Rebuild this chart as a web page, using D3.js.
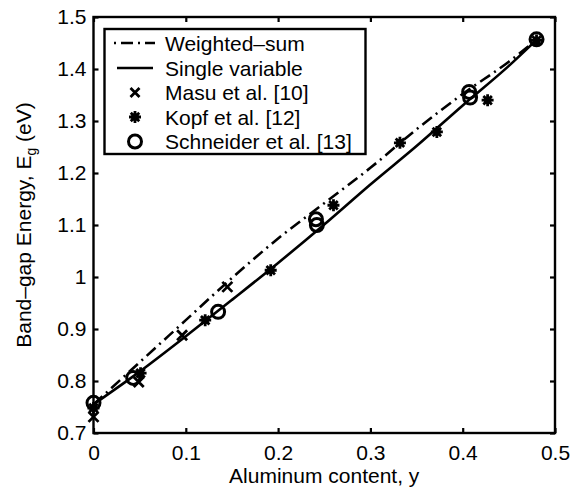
<!DOCTYPE html>
<html><head><meta charset="utf-8">
<script src="https://cdn.jsdelivr.net/npm/d3@7"></script>
<style>
body{margin:0;background:#fff;}
text{font-family:"Liberation Sans",Arial,Helvetica,sans-serif;fill:#000;}
</style></head>
<body>
<svg id="chart" width="578" height="490"></svg>
<script>
// ---- data ----
const xTicks = [0, 0.1, 0.2, 0.3, 0.4, 0.5];
const xTickLabels = ["0", "0.1", "0.2", "0.3", "0.4", "0.5"];
const yTicks = [0.7, 0.8, 0.9, 1.0, 1.1, 1.2, 1.3, 1.4, 1.5];
const yTickLabels = ["0.7", "0.8", "0.9", "1", "1.1", "1.2", "1.3", "1.4", "1.5"];

const curveX = [0, 0.05, 0.1, 0.15, 0.2, 0.25, 0.3, 0.35, 0.4, 0.45, 0.48];
const weightedSum = [0.755, 0.836, 0.917, 0.998, 1.074, 1.142, 1.210, 1.284, 1.352, 1.414, 1.456];
const singleVariable = [0.755, 0.818, 0.886, 0.956, 1.027, 1.101, 1.178, 1.252, 1.330, 1.406, 1.456];

const masuX = [0, 0.049, 0.096, 0.145];
const masuY = [0.731, 0.798, 0.888, 0.981];
const kopfX = [0, 0.051, 0.121, 0.192, 0.26, 0.332, 0.372, 0.427, 0.48];
const kopfY = [0.748, 0.815, 0.917, 1.013, 1.138, 1.258, 1.279, 1.340, 1.455];
const schneiderX = [0, 0.043, 0.135, 0.241, 0.242, 0.407, 0.408, 0.48];
const schneiderY = [0.758, 0.806, 0.933, 1.111, 1.100, 1.356, 1.345, 1.457];

const legendLabels = ["Weighted\u2013sum", "Single variable", "Masu et al. [10]", "Kopf et al. [12]", "Schneider et al. [13]"];

// ---- layout ----
const svg = d3.select("#chart");
const L = 93.5, R = 555, T = 17, B = 433;
const x = d3.scaleLinear().domain([0, 0.5]).range([L, R]);
const y = d3.scaleLinear().domain([0.7, 1.5]).range([B, T]);
const FS = 21;
const LW = 2.6;

// axes box
const gAx = svg.append("g");
gAx.append("g").attr("transform", `translate(0,${B})`)
  .call(d3.axisBottom(x).tickValues(xTicks).tickFormat((d,i)=>xTickLabels[i]).tickSizeInner(-5).tickSizeOuter(0).tickPadding(12));
gAx.append("g").attr("transform", `translate(0,${T})`)
  .call(d3.axisTop(x).tickValues(xTicks).tickFormat("").tickSizeInner(-5).tickSizeOuter(0));
gAx.append("g").attr("transform", `translate(${L},0)`)
  .call(d3.axisLeft(y).tickValues(yTicks).tickFormat((d,i)=>yTickLabels[i]).tickSizeInner(-5).tickSizeOuter(0).tickPadding(7));
gAx.append("g").attr("transform", `translate(${R},0)`)
  .call(d3.axisRight(y).tickValues(yTicks).tickFormat("").tickSizeInner(-5).tickSizeOuter(0));
gAx.selectAll(".domain").remove();
gAx.selectAll(".tick line").attr("stroke", "#000").attr("stroke-width", 2.2);
gAx.selectAll(".tick text").attr("font-size", FS).attr("font-family", "Liberation Sans, Arial, sans-serif").attr("fill", "#000");
svg.append("rect").attr("x", L).attr("y", T).attr("width", R - L).attr("height", B - T)
  .attr("fill", "none").attr("stroke", "#000").attr("stroke-width", 2.4);

// curves
const line = d3.line().x(d => x(d[0])).y(d => y(d[1])).curve(d3.curveMonotoneX);
svg.append("path").datum(curveX.map((v,i)=>[v, singleVariable[i]]))
  .attr("d", line).attr("fill", "none").attr("stroke", "#000").attr("stroke-width", LW);
svg.append("path").datum(curveX.map((v,i)=>[v, weightedSum[i]]))
  .attr("d", line).attr("fill", "none").attr("stroke", "#000").attr("stroke-width", LW)
  .attr("stroke-dasharray", "12,5,2,5");

// marker painters
function drawX(g, cx, cy, s) {
  g.append("path").attr("d", `M${cx-s},${cy-s}L${cx+s},${cy+s}M${cx-s},${cy+s}L${cx+s},${cy-s}`)
    .attr("stroke", "#000").attr("stroke-width", 2.8).attr("fill", "none");
}
function drawStar(g, cx, cy, s) {
  let d = "";
  for (let k = 0; k < 4; k++) {
    const a = k * Math.PI / 4;
    d += `M${cx - s*Math.cos(a)},${cy - s*Math.sin(a)}L${cx + s*Math.cos(a)},${cy + s*Math.sin(a)}`;
  }
  g.append("path").attr("d", d).attr("stroke", "#000").attr("stroke-width", 2.8).attr("fill", "none");
  g.append("circle").attr("cx", cx).attr("cy", cy).attr("r", 3.8).attr("fill", "#000");
}
function drawO(g, cx, cy, r) {
  g.append("circle").attr("cx", cx).attr("cy", cy).attr("r", r)
    .attr("fill", "none").attr("stroke", "#000").attr("stroke-width", 3);
}

const gm = svg.append("g");
masuX.forEach((v,i)=>drawX(gm, x(v), y(masuY[i]), 5));
kopfX.forEach((v,i)=>drawStar(gm, x(v), y(kopfY[i]), 6));
schneiderX.forEach((v,i)=>drawO(gm, x(v), y(schneiderY[i]), 6.5));

// legend
const lg = svg.append("g");
lg.append("rect").attr("x", 104.5).attr("y", 29).attr("width", 261).attr("height", 125)
  .attr("fill", "#fff").attr("stroke", "#000").attr("stroke-width", 2.4);
const rowY = [43, 68, 92.5, 117, 141.5];
legendLabels.forEach((t,i)=>{
  lg.append("text").attr("x", 165).attr("y", rowY[i]).attr("dy", "0.36em")
    .attr("font-size", FS).text(t);
});
lg.append("line").attr("x1", 114).attr("x2", 155).attr("y1", rowY[0]).attr("y2", rowY[0])
  .attr("stroke", "#000").attr("stroke-width", LW).attr("stroke-dasharray", "2,5,12,5");
lg.append("line").attr("x1", 117).attr("x2", 153).attr("y1", rowY[1]).attr("y2", rowY[1])
  .attr("stroke", "#000").attr("stroke-width", LW);
drawX(lg, 135, rowY[2], 4.5);
drawStar(lg, 135, rowY[3], 6);
drawO(lg, 135, rowY[4], 6.5);

// axis labels
svg.append("text").attr("x", (L+R)/2).attr("y", 483).attr("text-anchor", "middle")
  .attr("font-size", FS).text("Aluminum content, y");
const yl = svg.append("text").attr("transform", `translate(31,${(T+B)/2}) rotate(-90)`)
  .attr("text-anchor", "middle").attr("font-size", FS);
yl.append("tspan").text("Band\u2013gap Energy, E");
yl.append("tspan").attr("font-size", 14).attr("dy", 5).text("g");
yl.append("tspan").attr("dy", -5).text(" (eV)");
</script>
</body></html>
